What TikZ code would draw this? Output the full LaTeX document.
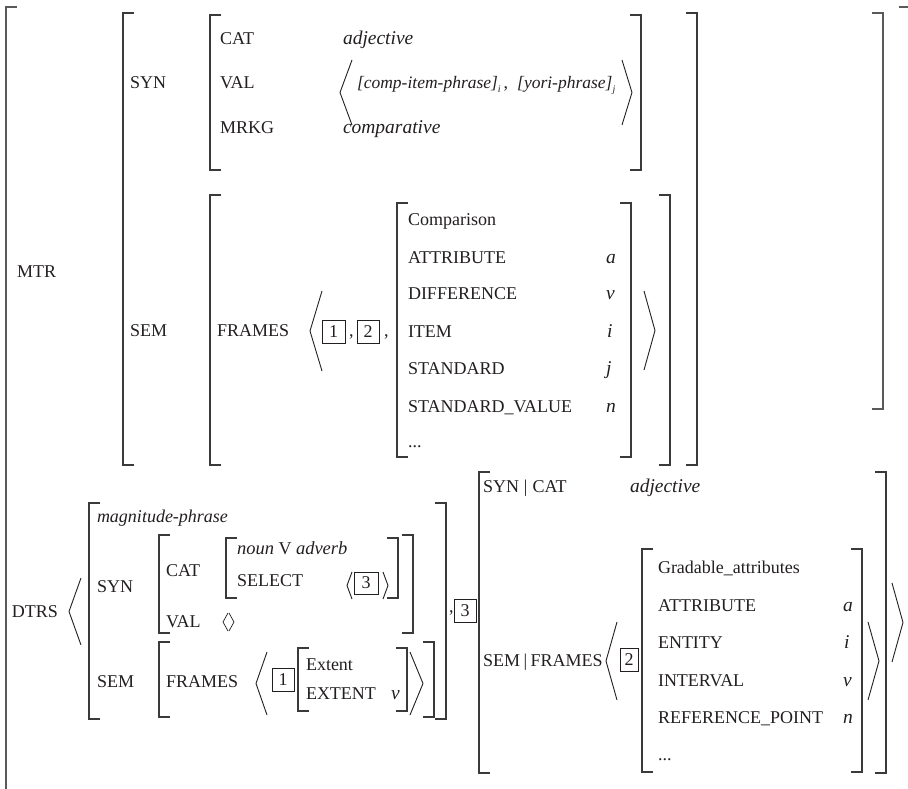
\documentclass[tikz,border=0pt]{standalone}
\usepackage{fontspec}
\setmainfont{Liberation Serif}
\definecolor{ink}{HTML}{231F20}
\definecolor{rule}{HTML}{3A3A3A}
\definecolor{ruleo}{HTML}{5A5A5A}
\newcommand\rmf{\fontsize{18}{20}\selectfont}
\newcommand\itt[1]{{\fontsize{19.5}{20}\selectfont\itshape #1}}
\newcommand\itk[2]{{\fontsize{#1}{20}\selectfont\itshape #2}}
\newcommand\sbs[1]{\raisebox{-4pt}{\fontsize{10}{11}\selectfont\itshape #1}}
\newcounter{nn}
\newcommand\T[3]{\stepcounter{nn}\node[txt] (t\arabic{nn}) at (#1,#2) {#3};}
\newcommand\LB[3]{\draw[brk] (#1+11,#2) -- (#1,#2) -- (#1,#3) -- (#1+11,#3);}
\newcommand\RB[3]{\draw[brk] (#1-11,#2) -- (#1,#2) -- (#1,#3) -- (#1-11,#3);}
\newcommand\LA[4]{\draw[ang] (#2,#3) -- (#1,{(#3+#4)/2}) -- (#2,#4);}
\newcommand\Bx[5]{\stepcounter{nn}\draw[boxl] (#1,#2) rectangle (#3,#4);
  \node[txt,anchor=center] (b\arabic{nn}) at ({(#1+#3)/2},{(#2+#4)/2}) {#5};}
\begin{document}
\begin{tikzpicture}[x=1pt,y=-1pt,
  txt/.style={anchor=base west,inner sep=0pt,outer sep=0pt,text=ink,font=\rmf},
  brk/.style={draw=rule,line width=1.3pt,line cap=butt,line join=miter},
  brko/.style={draw=ruleo,line width=1.4pt},
  ang/.style={draw=ink,line width=0.9pt,line join=miter},
  angs/.style={draw=ink,line width=0.7pt},
  boxl/.style={draw=ink,line width=0.9pt}]
\useasboundingbox (0,0) rectangle (908,789);
\fill[white] (0,0) rectangle (908,789);
% outer frame
\draw[brko] (17,7) -- (6,7) -- (6,789);
\draw[brko] (872,13) -- (883,13) -- (883,409) -- (872,409);
\draw[brko] (899,7) -- (908,7);
% MTR
\T{17}{277}{MTR}
\LB{123}{13}{465}
\RB{697}{13}{465}
% SYN
\T{130}{89}{SYN}
\LB{210}{15}{170}
\RB{641}{15}{170}
\T{220}{45}{CAT}
\T{220}{89}{VAL}
\T{220}{134}{MRKG}
\T{343}{45}{\itt{adjective}}
\T{343}{134}{\itt{comparative}}
\LA{340}{352}{60}{125}
\T{357}{89}{\itk{17.5}{[comp-item-phrase]}\sbs{i}\,,\ \ \itk{17.5}{[yori-phrase]}\sbs{j}}
\LA{632}{622}{60}{125}
% SEM
\T{130}{336}{SEM}
\LB{210}{195}{465}
\RB{670}{195}{465}
\T{217}{336}{FRAMES}
\LA{310}{322}{291}{371}
\Bx{322}{320}{345}{343}{1}
\T{349}{336}{,}
\Bx{357}{320}{379}{343}{2}
\T{384}{336}{,}
\LB{397}{203}{457}
\RB{631}{203}{457}
\T{408}{225}{Comparison}
\T{408}{263}{ATTRIBUTE}
\T{408}{299}{DIFFERENCE}
\T{408}{337}{ITEM}
\T{408}{374}{STANDARD}
\T{408}{412}{STANDARD\_VALUE}
\T{408}{447}{...}
\T{606}{263}{\itt{a}}
\T{606}{299}{\itt{v}}
\T{607}{337}{\itt{i}}
\T{606}{374}{\itt{j}}
\T{606}{412}{\itt{n}}
\LA{655}{644}{291}{370}
% DTRS
\T{12}{617}{DTRS}
\LA{69}{81}{578}{645}
\LB{89}{503}{719}
\RB{446}{503}{719}
\T{97}{522}{\itk{18}{magnitude-phrase}}
\T{97}{592}{SYN}
\T{97}{687}{SEM}
\LB{159}{535}{633}
\RB{413}{535}{633}
\T{166}{576}{CAT}
\T{166}{627}{VAL}
\draw[angs] (228,613) -- (223,622) -- (228,631);
\draw[angs] (229,613) -- (234,622) -- (229,631);
\LB{226}{538}{598}
\RB{398}{538}{598}
\T{237}{554}{\itk{18.5}{noun} V \itk{18.5}{adverb}}
\T{237}{586}{SELECT}
\LA{347}{352}{572}{599}
\Bx{354}{572}{378}{594}{3}
\LA{388}{383}{572}{599}
\LB{159}{642}{717}
\RB{434}{642}{717}
\T{166}{687}{FRAMES}
\LA{256}{267}{652}{715}
\Bx{272}{668}{294}{691}{1}
\LB{298}{648}{711}
\RB{407}{648}{711}
\T{306}{670}{Extent}
\T{306}{699}{EXTENT}
\T{391}{699}{\itt{v}}
\LA{423}{410}{652}{715}
\T{449}{612}{,}
\Bx{454}{599}{476}{622}{3}
% right daughter
\LB{479}{472}{773}
\RB{886}{472}{773}
\T{483}{492}{SYN\hspace{5pt}|\hspace{5pt}CAT}
\T{630}{492}{\itt{adjective}}
\T{483}{666}{SEM\hspace{3.5pt}|\hspace{3.5pt}FRAMES}
\LA{606}{617}{622}{700}
\Bx{620}{648}{638}{671}{2}
\LB{642}{549}{772}
\RB{862}{549}{772}
\T{658}{573}{Gradable\_attributes}
\T{658}{611}{ATTRIBUTE}
\T{658}{648}{ENTITY}
\T{658}{686}{INTERVAL}
\T{658}{723}{REFERENCE\_POINT}
\T{658}{760}{...}
\T{843}{611}{\itt{a}}
\T{844}{648}{\itt{i}}
\T{843}{686}{\itt{v}}
\T{843}{723}{\itt{n}}
\LA{879}{868}{622}{700}
\LA{903}{892}{583}{662}
\end{tikzpicture}
\end{document}
